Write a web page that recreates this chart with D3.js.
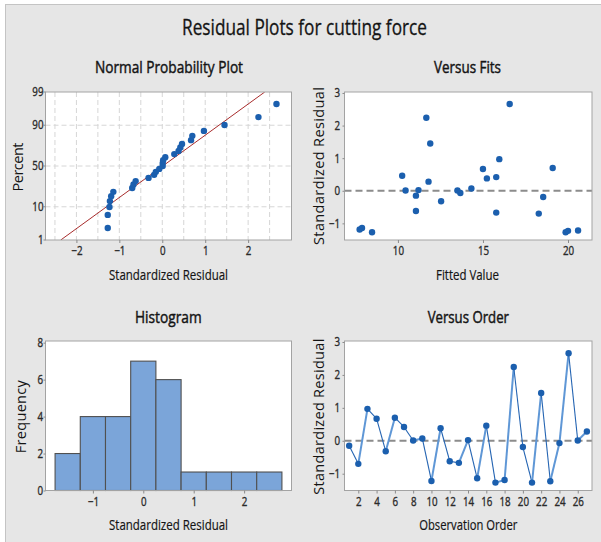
<!DOCTYPE html>
<html>
<head>
<meta charset="utf-8">
<script src="https://cdn.jsdelivr.net/npm/d3@7"></script>
<style>
  html, body { margin: 0; padding: 0; background: #fff; }
  svg { display: block; }
  text { font-family: "Open Sans", "Noto Sans", sans-serif; }
</style>
</head>
<body>
<script>
// ---------------- DATA ----------------
// Standardized residuals in observation order 1..27
const residuals = [-0.15, -0.70, 0.97, 0.67, -0.32, 0.70, 0.42, 0.01, 0.07, -1.22,
                   0.38, -0.62, -0.67, 0.02, -1.14, 0.46, -1.27, -1.19, 2.24, -0.19,
                   -1.27, 1.45, -1.23, -0.07, 2.66, 0.01, 0.28];
// Fitted values in observation order 1..27
const fits = [11.06, 18.28, 15.96, 15.00, 12.54, 19.10, 15.78, 13.50, 14.32, 20.59,
              15.23, 11.06, 15.78, 11.21, 7.89, 10.25, 8.48, 7.75, 11.67, 18.54,
              19.86, 11.90, 20.00, 13.67, 16.57, 10.45, 11.80];
// Histogram bins (edges) and counts
const histEdges = [-1.75, -1.25, -0.75, -0.25, 0.25, 0.75, 1.25, 1.75, 2.25, 2.75];
const histCounts = [2, 4, 4, 7, 6, 1, 1, 1, 1];
// Tick labels
const percentTicks = [1, 10, 50, 90, 99];
const npXTicks = [-2, -1, 0, 1, 2];
const npGridX = [-2.5, -2, -1.5, -1, -0.5, 0, 0.5, 1, 1.5, 2, 2.5];
const residTicks = [-1, 0, 1, 2, 3];
const fitTicks = [10, 15, 20];
const histXTicks = [-1, 0, 1, 2];
const freqTicks = [0, 2, 4, 6, 8];
const orderTicks = [2, 4, 6, 8, 10, 12, 14, 16, 18, 20, 22, 24, 26];

// ---------------- helpers ----------------
function invNorm(p) {
  const a = [-3.969683028665376e+01, 2.209460984245205e+02, -2.759285104469687e+02,
             1.383577518672690e+02, -3.066479806614716e+01, 2.506628277459239e+00];
  const b = [-5.447609879822406e+01, 1.615858368580409e+02, -1.556989798598866e+02,
             6.680131188771972e+01, -1.328068155288572e+01];
  const c = [-7.784894002430293e-03, -3.223964580411365e-01, -2.400758277161838e+00,
             -2.549671180544682e+00, 4.374664141464968e+00, 2.938163982698783e+00];
  const d = [7.784695709041462e-03, 3.224671290700398e-01, 2.445134137142996e+00,
             3.754408661907416e+00];
  const pl = 0.02425, ph = 1 - pl;
  let q, r;
  if (p < pl) {
    q = Math.sqrt(-2 * Math.log(p));
    return (((((c[0]*q+c[1])*q+c[2])*q+c[3])*q+c[4])*q+c[5]) / ((((d[0]*q+d[1])*q+d[2])*q+d[3])*q+1);
  } else if (p <= ph) {
    q = p - 0.5; r = q * q;
    return (((((a[0]*r+a[1])*r+a[2])*r+a[3])*r+a[4])*r+a[5])*q / (((((b[0]*r+b[1])*r+b[2])*r+b[3])*r+b[4])*r+1);
  } else {
    q = Math.sqrt(-2 * Math.log(1 - p));
    return -(((((c[0]*q+c[1])*q+c[2])*q+c[3])*q+c[4])*q+c[5]) / ((((d[0]*q+d[1])*q+d[2])*q+d[3])*q+1);
  }
}

const W = 601, H = 542;
const svg = d3.select("body").append("svg").attr("width", W).attr("height", H);

svg.append("rect").attr("x", 0).attr("y", 0).attr("width", W).attr("height", H).attr("fill", "#ffffff");
svg.append("rect").attr("x", 5.5).attr("y", 4.5).attr("width", W).attr("height", H)
  .attr("fill", "#e6e6e6").attr("stroke", "#c4c4c4").attr("stroke-width", 1);

const TXT = "#141414", TICK = "#2a2a2a";
const DOT = "#1b5fae";

function hText(txt, x, y, size, len, strokeW) {
  const t = svg.append("text").attr("x", x).attr("y", y).attr("text-anchor", "middle")
    .attr("font-size", size).attr("fill", TXT)
    .attr("textLength", len).attr("lengthAdjust", "spacingAndGlyphs").text(txt);
  if (strokeW) t.attr("stroke", TXT).attr("stroke-width", strokeW);
}
function vText(txt, x, y, size, len) {
  svg.append("text").attr("transform", `translate(${x},${y}) rotate(-90)`)
    .attr("text-anchor", "middle").attr("font-size", size).attr("fill", TXT)
    .attr("textLength", len).attr("lengthAdjust", "spacing").text(txt);
}

function styleAxis(g) {
  g.select(".domain").remove();
  g.selectAll(".tick line").attr("stroke", "#8a8a8a");
  g.selectAll(".tick text").attr("fill", TICK).attr("font-size", 12.5)
    .attr("stroke", TICK).attr("stroke-width", 0.35)
    .attr("font-family", "Open Sans, sans-serif");
}
function squeezeTicks(g) {
  g.selectAll(".tick text").each(function() {
    const t = d3.select(this);
    t.attr("transform", "scale(0.78,1)");
    const x = +t.attr("x") || 0;
    t.attr("x", x / 0.78);
  });
}

function panel(box) {
  const g = svg.append("g");
  g.append("rect").attr("x", box.x0).attr("y", box.y0)
    .attr("width", box.x1 - box.x0).attr("height", box.y1 - box.y0)
    .attr("fill", "#ffffff");
  return g;
}
function frame(box) {
  svg.append("rect").attr("x", box.x0).attr("y", box.y0)
    .attr("width", box.x1 - box.x0).attr("height", box.y1 - box.y0)
    .attr("fill", "none").attr("stroke", "#a3a3a3").attr("stroke-width", 1);
}
function clipFor(id, box) {
  svg.append("clipPath").attr("id", id).append("rect")
    .attr("x", box.x0).attr("y", box.y0).attr("width", box.x1 - box.x0).attr("height", box.y1 - box.y0);
}

// ---------------- Title ----------------
hText("Residual Plots for cutting force", 304.5, 35, 21, 245, 0.3);

// ---------------- Panel 1: Normal Probability Plot ----------------
{
  const box = {x0: 45.5, x1: 291.5, y0: 92, y1: 240};
  const g = panel(box);
  clipFor("clipNP", box);
  const x = d3.scaleLinear().domain([-2.72, 3.01]).range([box.x0, box.x1]);
  const y = d3.scaleLinear().domain([invNorm(0.01), invNorm(0.99)]).range([box.y1, box.y0]);
  const yP = p => y(invNorm(p / 100));

  // grid
  g.selectAll(".gx").data(npGridX).enter().append("line")
    .attr("x1", d => x(d)).attr("x2", d => x(d)).attr("y1", box.y0).attr("y2", box.y1)
    .attr("stroke", "#d6d6d6").attr("stroke-width", 1).attr("stroke-dasharray", "5,3");
  g.selectAll(".gy").data(percentTicks.slice(1, -1)).enter().append("line")
    .attr("x1", box.x0).attr("x2", box.x1).attr("y1", d => yP(d)).attr("y2", d => yP(d))
    .attr("stroke", "#d6d6d6").attr("stroke-width", 1).attr("stroke-dasharray", "5,3");

  // fitted normal line
  const mu = d3.mean(residuals), sd = d3.deviation(residuals);
  const zLo = invNorm(0.01), zHi = invNorm(0.99);
  g.append("line").attr("clip-path", "url(#clipNP)")
    .attr("x1", x(mu + sd * zLo)).attr("y1", y(zLo))
    .attr("x2", x(mu + sd * zHi)).attr("y2", y(zHi))
    .attr("stroke", "#a82c2c").attr("stroke-width", 1);

  // points
  const sorted = residuals.slice().sort(d3.ascending);
  const n = sorted.length;
  g.selectAll(".pt").data(sorted).enter().append("circle")
    .attr("cx", d => x(d)).attr("cy", (d, i) => y(invNorm((i + 1 - 0.3) / (n + 0.4))))
    .attr("r", 3.2).attr("fill", DOT);

  frame(box);
  const ax = svg.append("g").attr("transform", `translate(0,${box.y1})`)
    .call(d3.axisBottom(x).tickValues(npXTicks).tickSize(3).tickPadding(3.5).tickFormat(d3.format("d")));
  styleAxis(ax); squeezeTicks(ax);
  // y ticks on probability scale
  const yg = svg.append("g");
  percentTicks.forEach(p => {
    yg.append("line").attr("x1", box.x0 - 2).attr("x2", box.x0).attr("y1", yP(p)).attr("y2", yP(p))
      .attr("stroke", "#8a8a8a");
    yg.append("text").attr("transform", `translate(${box.x0 - 2},${yP(p)}) scale(0.78,1)`)
      .attr("text-anchor", "end").attr("dy", "0.34em").attr("font-size", 12.5)
      .attr("stroke", TICK).attr("stroke-width", 0.35).attr("fill", TICK)
      .text(p);
  });

  hText("Normal Probability Plot", 169, 72.7, 16.5, 148, 0.45);
  hText("Standardized Residual", 168.5, 280, 14.5, 119, 0.2);
  vText("Percent", 23.3, 167, 14.5, 49);
}

// ---------------- Panel 2: Versus Fits ----------------
{
  const box = {x0: 344.5, x1: 592, y0: 92, y1: 240};
  const g = panel(box);
  const x = d3.scaleLinear().domain([6.86, 21.41]).range([box.x0, box.x1]);
  const y = d3.scaleLinear().domain([-1.51, 3.03]).range([box.y1, box.y0]);

  g.append("line").attr("x1", box.x0).attr("x2", box.x1).attr("y1", y(0)).attr("y2", y(0))
    .attr("stroke", "#8c8c8c").attr("stroke-width", 2).attr("stroke-dasharray", "7,4");

  g.selectAll(".pt").data(residuals).enter().append("circle")
    .attr("cx", (d, i) => x(fits[i])).attr("cy", d => y(d)).attr("r", 3.2).attr("fill", DOT);

  frame(box);
  const ax = svg.append("g").attr("transform", `translate(0,${box.y1})`)
    .call(d3.axisBottom(x).tickValues(fitTicks).tickSize(3).tickPadding(3.5).tickFormat(d3.format("d")));
  styleAxis(ax); squeezeTicks(ax);
  const ay = svg.append("g").attr("transform", `translate(${box.x0},0)`)
    .call(d3.axisLeft(y).tickValues(residTicks).tickSize(2).tickPadding(2.5).tickFormat(d3.format("d")));
  styleAxis(ay); squeezeTicks(ay);

  hText("Versus Fits", 467.5, 72.7, 16.5, 67, 0.45);
  hText("Fitted Value", 467.5, 280, 14.5, 63, 0.2);
  vText("Standardized Residual", 323.8, 166, 14.5, 158);
}

// ---------------- Panel 3: Histogram ----------------
{
  const box = {x0: 45.5, x1: 291.5, y0: 341, y1: 490.5};
  const g = panel(box);
  const x = d3.scaleLinear().domain([-1.94, 2.94]).range([box.x0, box.x1]);
  const y = d3.scaleLinear().domain([0, 8.09]).range([box.y1, box.y0]);

  g.selectAll(".bar").data(histCounts).enter().append("rect")
    .attr("x", (d, i) => x(histEdges[i])).attr("width", (d, i) => x(histEdges[i + 1]) - x(histEdges[i]))
    .attr("y", d => y(d)).attr("height", d => y(0) - y(d))
    .attr("fill", "#7ba5d9").attr("stroke", "#505050").attr("stroke-width", 1.1);

  frame(box);
  const ax = svg.append("g").attr("transform", `translate(0,${box.y1})`)
    .call(d3.axisBottom(x).tickValues(histXTicks).tickSize(3).tickPadding(3.5).tickFormat(d3.format("d")));
  styleAxis(ax); squeezeTicks(ax);
  const ay = svg.append("g").attr("transform", `translate(${box.x0},0)`)
    .call(d3.axisLeft(y).tickValues(freqTicks).tickSize(2).tickPadding(0.5).tickFormat(d3.format("d")));
  styleAxis(ay); squeezeTicks(ay);

  hText("Histogram", 168.3, 322.7, 16.5, 66.7, 0.45);
  hText("Standardized Residual", 168.5, 530, 14.5, 119, 0.2);
  vText("Frequency", 26, 416.7, 14.5, 73);
}

// ---------------- Panel 4: Versus Order ----------------
{
  const box = {x0: 344.5, x1: 592, y0: 341, y1: 490.5};
  const g = panel(box);
  const x = d3.scaleLinear().domain([0.49, 27.56]).range([box.x0, box.x1]);
  const y = d3.scaleLinear().domain([-1.51, 3.03]).range([box.y1, box.y0]);

  g.append("line").attr("x1", box.x0).attr("x2", box.x1).attr("y1", y(0)).attr("y2", y(0))
    .attr("stroke", "#8c8c8c").attr("stroke-width", 2).attr("stroke-dasharray", "7,4");

  const segs = d3.pairs(residuals.map((r, i) => ({o: i + 1, r})));
  g.selectAll(".seg").data(segs).enter().append("line")
    .attr("x1", d => x(d[0].o)).attr("y1", d => y(d[0].r))
    .attr("x2", d => x(d[1].o)).attr("y2", d => y(d[1].r))
    .attr("stroke", d => d[1].r > d[0].r ? "#5f97d6" : "#2464b2")
    .attr("stroke-width", d => d[1].r > d[0].r ? 2 : 1.1);

  g.selectAll(".pt").data(residuals).enter().append("circle")
    .attr("cx", (d, i) => x(i + 1)).attr("cy", d => y(d)).attr("r", 3.2).attr("fill", DOT);

  frame(box);
  const ax = svg.append("g").attr("transform", `translate(0,${box.y1})`)
    .call(d3.axisBottom(x).tickValues(orderTicks).tickSize(3).tickPadding(3.5).tickFormat(d3.format("d")));
  styleAxis(ax); squeezeTicks(ax);
  const ay = svg.append("g").attr("transform", `translate(${box.x0},0)`)
    .call(d3.axisLeft(y).tickValues(residTicks).tickSize(2).tickPadding(2.5).tickFormat(d3.format("d")));
  styleAxis(ay); squeezeTicks(ay);

  hText("Versus Order", 468.3, 322.7, 16.5, 81.3, 0.45);
  hText("Observation Order", 468.3, 530, 14.5, 98, 0.2);
  vText("Standardized Residual", 323.8, 416.7, 14.5, 156);
}
</script>
</body>
</html>
